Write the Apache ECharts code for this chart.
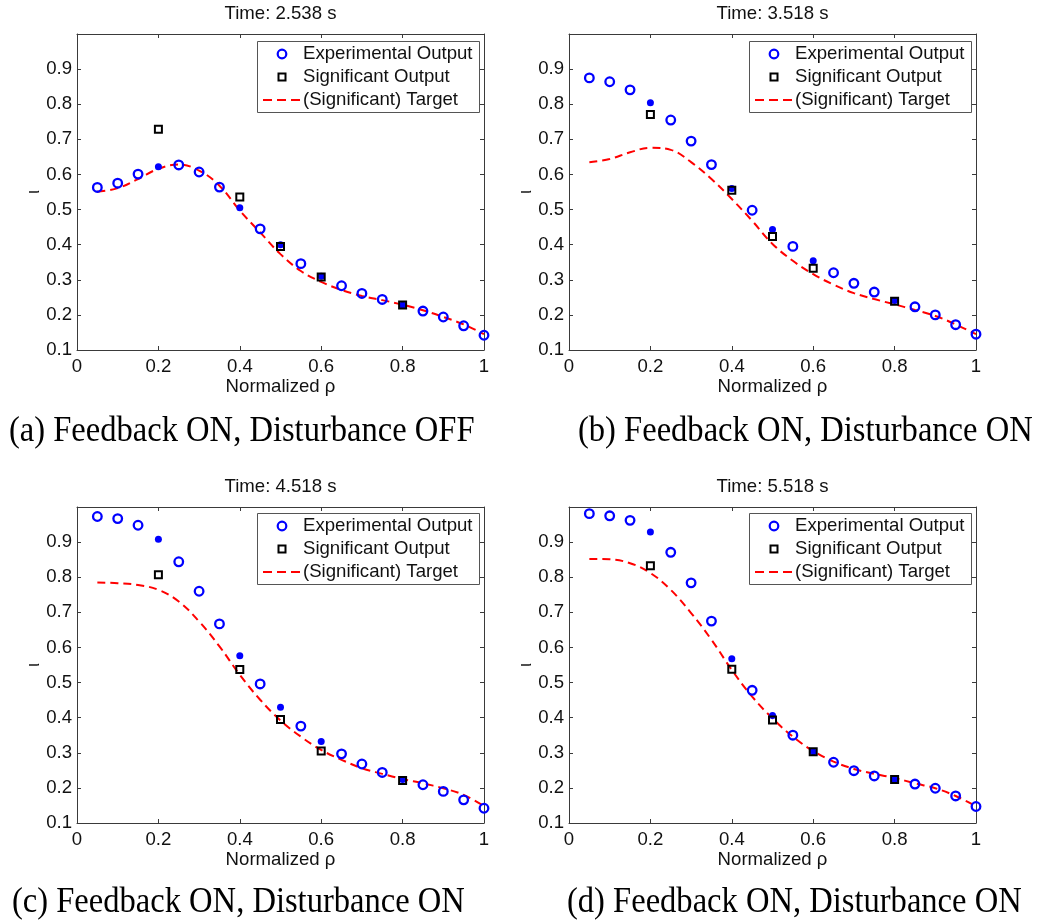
<!DOCTYPE html>
<html>
<head>
<meta charset="utf-8">
<script src="https://cdn.jsdelivr.net/npm/echarts@6/dist/echarts.min.js"></script>
<style>
  html, body { margin: 0; padding: 0; background: #ffffff; }
  #chart { width: 1040px; height: 922px; }
</style>
</head>
<body>
<div id="chart"></div>
<script>
// Radial grid (normalized rho) where the profile is sampled
const rho = [0.05, 0.10, 0.15, 0.20, 0.25, 0.30, 0.35, 0.40, 0.45, 0.50,
             0.55, 0.60, 0.65, 0.70, 0.75, 0.80, 0.85, 0.90, 0.95, 1.00];
// Locations of the significant (controlled) outputs
const sigRho = [0.2, 0.4, 0.5, 0.6, 0.8];

const panelTitles = ['Time: 2.538 s', 'Time: 3.518 s', 'Time: 4.518 s', 'Time: 5.518 s'];
const captions = [
  '(a) Feedback ON, Disturbance OFF',
  '(b) Feedback ON, Disturbance ON',
  '(c) Feedback ON, Disturbance ON',
  '(d) Feedback ON, Disturbance ON'
];
const legendNames = ['Experimental Output', 'Significant Output', '(Significant) Target'];
const xAxisName = 'Normalized ρ';
const yAxisName = 'ι';

// (a) t = 2.538 s
const expA = [0.563, 0.575, 0.601, 0.622, 0.627, 0.607, 0.564, 0.505, 0.445, 0.400,
              0.346, 0.310, 0.283, 0.261, 0.244, 0.228, 0.211, 0.194, 0.169, 0.142];
const sigA = [0.729, 0.536, 0.395, 0.308, 0.228];
const tgtA = [0.551, 0.561, 0.587, 0.616, 0.628, 0.611, 0.568, 0.497, 0.435, 0.373,
              0.325, 0.294, 0.271, 0.254, 0.242, 0.229, 0.213, 0.194, 0.173, 0.145];

// (b) t = 3.518 s
const expB = [0.875, 0.864, 0.841, 0.804, 0.755, 0.695, 0.628, 0.560, 0.498, 0.443,
              0.395, 0.354, 0.320, 0.290, 0.265, 0.241, 0.223, 0.200, 0.172, 0.145];
const sigB = [0.771, 0.555, 0.423, 0.333, 0.239];
const tgtB = [0.635, 0.644, 0.663, 0.676, 0.670, 0.635, 0.587, 0.530, 0.468, 0.402,
              0.354, 0.316, 0.286, 0.262, 0.245, 0.230, 0.214, 0.197, 0.173, 0.145];

// (c) t = 4.518 s
const expC = [0.973, 0.967, 0.948, 0.908, 0.844, 0.760, 0.667, 0.576, 0.496, 0.430,
              0.376, 0.332, 0.297, 0.268, 0.244, 0.224, 0.209, 0.190, 0.166, 0.142];
const sigC = [0.807, 0.537, 0.395, 0.305, 0.221];
const tgtC = [0.785, 0.783, 0.778, 0.764, 0.731, 0.674, 0.603, 0.522, 0.451, 0.392,
              0.346, 0.308, 0.280, 0.256, 0.240, 0.225, 0.213, 0.199, 0.180, 0.148];

// (d) t = 5.518 s
const expD = [0.981, 0.975, 0.962, 0.929, 0.871, 0.784, 0.675, 0.568, 0.478, 0.406,
              0.350, 0.303, 0.273, 0.249, 0.234, 0.224, 0.211, 0.199, 0.177, 0.147];
const sigD = [0.833, 0.538, 0.393, 0.303, 0.224];
const tgtD = [0.852, 0.851, 0.840, 0.812, 0.764, 0.698, 0.622, 0.536, 0.460, 0.398,
              0.346, 0.305, 0.275, 0.254, 0.240, 0.228, 0.213, 0.199, 0.177, 0.148];

const experimental = [expA, expB, expC, expD];
const significant = [sigA, sigB, sigC, sigD];
const targets = [tgtA, tgtB, tgtC, tgtD];

// ---- layout and styling ----
const SANS = '"Liberation Sans", Arial, Helvetica, sans-serif';
const SERIF = '"Liberation Serif", "Times New Roman", serif';
const AXIS_COLOR = '#3a3a3a';
const TEXT_COLOR = '#111111';
const BLUE = '#0000ff';
const RED = '#ff0000';
const FS = 18.6;

const panels = [
  { left: 77,  top: 34,  legendLeft: 257, legendTop: 41,  capX: 9,   capY: 432 },
  { left: 569, top: 34,  legendLeft: 749, legendTop: 41,  capX: 578, capY: 432 },
  { left: 77,  top: 507, legendLeft: 257, legendTop: 513, capX: 12,  capY: 903 },
  { left: 569, top: 507, legendLeft: 749, legendTop: 513, capX: 567, capY: 903 }
];
const PW = 407, PH = 316;
const LEG_W = 222, LEG_H = 71;

const isSig = r => sigRho.some(s => Math.abs(s - r) < 1e-9);

// boxed legend: open circle, hollow square, dashed line
function legendBox(x, y) {
  const rowY = [13, 36, 59];
  const label = (t, ry) => ({
    type: 'text', x: 46, y: ry,
    style: { text: t, font: FS + 'px ' + SANS, fill: TEXT_COLOR,
             align: 'left', verticalAlign: 'middle', textAlign: 'left', textVerticalAlign: 'middle' }
  });
  return {
    type: 'group', x: x, y: y, z: 100,
    children: [
      { type: 'rect', shape: { x: 0.5, y: 0.5, width: LEG_W, height: LEG_H },
        style: { fill: '#ffffff', stroke: '#555555', lineWidth: 1 } },
      { type: 'circle', shape: { cx: 25, cy: rowY[0], r: 4.3 },
        style: { fill: 'none', stroke: BLUE, lineWidth: 2.2 } },
      label(legendNames[0], rowY[0]),
      { type: 'rect', shape: { x: 21.5, y: rowY[1] - 3.5, width: 7, height: 7 },
        style: { fill: 'none', stroke: '#000000', lineWidth: 2 } },
      label(legendNames[1], rowY[1]),
      { type: 'line', shape: { x1: 6, y1: rowY[2], x2: 43, y2: rowY[2] },
        style: { stroke: RED, lineWidth: 2, lineDash: [9, 5] } },
      label(legendNames[2], rowY[2])
    ]
  };
}

const grids = [], xAxes = [], yAxes = [], series = [], graphics = [];

panels.forEach((p, i) => {
  grids.push({
    left: p.left, top: p.top, width: PW, height: PH,
    show: false, outerBoundsMode: 'none', containLabel: false
  });

  const tick = { show: true, inside: true, length: 4, lineStyle: { color: AXIS_COLOR, width: 1 } };
  const line = { show: true, onZero: false, lineStyle: { color: AXIS_COLOR, width: 1 } };

  // bottom and top x axes
  xAxes.push({
    gridIndex: i, type: 'value', min: 0, max: 1, interval: 0.2, position: 'bottom',
    axisLine: line, axisTick: tick, splitLine: { show: false },
    axisLabel: { color: TEXT_COLOR, fontFamily: SANS, fontSize: FS, margin: 7,
                 formatter: v => (v === 0 || v === 1) ? String(v) : v.toFixed(1) },
    name: xAxisName, nameLocation: 'middle', nameGap: 27, nameMoveOverlap: false,
    nameTextStyle: { color: TEXT_COLOR, fontFamily: SANS, fontSize: FS, verticalAlign: 'top' }
  });
  xAxes.push({
    gridIndex: i, type: 'value', min: 0, max: 1, interval: 0.2, position: 'top',
    axisLine: line, axisTick: tick, axisLabel: { show: false }, splitLine: { show: false }
  });

  // left and right y axes
  yAxes.push({
    gridIndex: i, type: 'value', min: 0.1, max: 1.0, interval: 0.1, position: 'left',
    axisLine: line, axisTick: tick, splitLine: { show: false },
    axisLabel: { color: TEXT_COLOR, fontFamily: SANS, fontSize: FS, margin: 5,
                 formatter: v => v > 0.95 ? '' : v.toFixed(1) },
    name: yAxisName, nameLocation: 'middle', nameGap: 34, nameRotate: 90, nameMoveOverlap: false,
    nameTextStyle: { color: TEXT_COLOR, fontFamily: SANS, fontSize: FS }
  });
  yAxes.push({
    gridIndex: i, type: 'value', min: 0.1, max: 1.0, interval: 0.1, position: 'right',
    axisLine: line, axisTick: tick, axisLabel: { show: false }, splitLine: { show: false }
  });

  const xi = i * 2, yi = i * 2;
  const exp = experimental[i];

  // target profile (dashed red)
  series.push({
    name: legendNames[2], type: 'line', xAxisIndex: xi, yAxisIndex: yi,
    data: rho.map((r, k) => [r, targets[i][k]]),
    smooth: 0.4, symbol: 'none', z: 2, silent: true,
    lineStyle: { color: RED, width: 2, type: [8, 5] },
    itemStyle: { color: RED }
  });

  // experimental output: open circles away from the significant points
  series.push({
    name: legendNames[0], type: 'scatter', xAxisIndex: xi, yAxisIndex: yi,
    data: rho.map((r, k) => [r, exp[k]]).filter(d => !isSig(d[0])),
    symbol: 'circle', symbolSize: 8.6, z: 3, silent: true,
    itemStyle: { color: 'rgba(255,255,255,0)', borderColor: BLUE, borderWidth: 2.3, opacity: 1 }
  });

  // experimental output at the significant points: filled dots
  series.push({
    name: 'Experimental Output at significant points', type: 'scatter', xAxisIndex: xi, yAxisIndex: yi,
    data: rho.map((r, k) => [r, exp[k]]).filter(d => isSig(d[0])),
    symbol: 'circle', symbolSize: 7, z: 3, silent: true,
    itemStyle: { color: BLUE, opacity: 1 }
  });

  // significant output: hollow black squares
  series.push({
    name: legendNames[1], type: 'scatter', xAxisIndex: xi, yAxisIndex: yi,
    data: sigRho.map((r, k) => [r, significant[i][k]]),
    symbol: 'rect', symbolSize: 7, z: 4, silent: true,
    itemStyle: { color: 'rgba(255,255,255,0)', borderColor: '#000000', borderWidth: 2, opacity: 1 }
  });

  graphics.push(legendBox(p.legendLeft, p.legendTop));

  // panel title
  graphics.push({
    type: 'text', x: p.left + PW / 2, y: p.top - 20,
    style: { text: panelTitles[i], font: FS + 'px ' + SANS, fill: TEXT_COLOR,
             align: 'center', verticalAlign: 'middle', textAlign: 'center', textVerticalAlign: 'middle' }
  });

  // sub-figure caption
  graphics.push({
    type: 'text', x: p.capX, y: p.capY, scaleX: 0.93, scaleY: 1,
    style: { text: captions[i], font: '35px ' + SERIF, fill: '#000000',
             align: 'left', verticalAlign: 'middle', textAlign: 'left', textVerticalAlign: 'middle' }
  });
});

const chart = echarts.init(document.getElementById('chart'), null, { renderer: 'canvas' });
chart.setOption({
  backgroundColor: '#ffffff',
  animation: false,
  grid: grids,
  xAxis: xAxes,
  yAxis: yAxes,
  series: series,
  graphic: graphics
});
</script>
</body>
</html>
